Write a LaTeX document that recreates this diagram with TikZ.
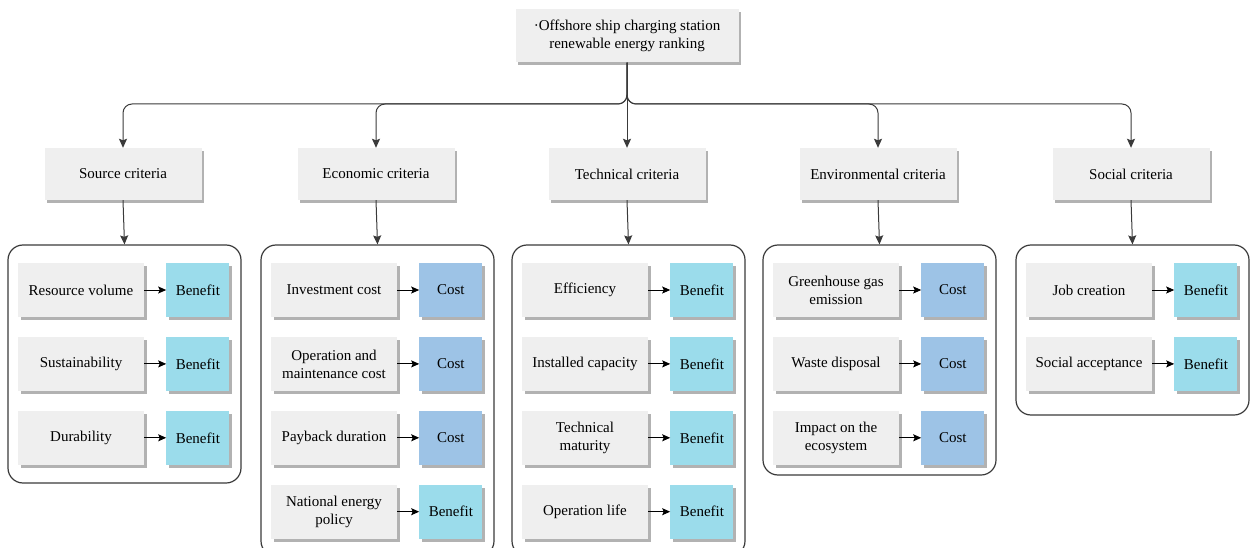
\documentclass[tikz,border=0pt]{standalone}
\usepackage{fontspec}
\setmainfont{Liberation Serif}
\usetikzlibrary{arrows.meta,positioning,shadows}
\definecolor{boxgray}{HTML}{EFEFEF}
\definecolor{benefitcol}{HTML}{9BDCEB}
\definecolor{costcol}{HTML}{9DC3E6}
\definecolor{linegray}{HTML}{3A3A3A}

\begin{document}
\begin{tikzpicture}[x=1pt, y=-1pt,
  font=\fontsize{15}{18}\selectfont,
  shd/.style={drop shadow={shadow xshift=2.5pt, shadow yshift=-3pt, opacity=0.3, fill=black}},
  goalbox/.style={shd, fill=boxgray, minimum width=223pt, minimum height=53pt, align=center},
  crit/.style={shd, fill=boxgray, minimum width=157pt, minimum height=52pt},
  item/.style={shd, fill=boxgray, minimum width=126pt, minimum height=54pt, align=center, inner sep=2pt},
  ben/.style={shd, fill=benefitcol, minimum width=63pt, minimum height=54pt},
  cst/.style={shd, fill=costcol, minimum width=63pt, minimum height=54pt},
  grp/.style={draw=linegray, line width=1.2pt, rounded corners=15pt, minimum width=233pt},
  link/.style={draw=linegray, line width=1pt, rounded corners=9pt, -{Stealth[length=9pt,width=8pt,inset=1.5pt]}},
  arr/.style={draw=black, line width=1pt, -{Stealth[length=8pt,width=7pt,inset=1.5pt]}},
  node distance=19.5pt and 22pt]
\useasboundingbox (0,0) rectangle (1252,548);

\node[goalbox] (goal) at (627,36) {·Offshore ship charging station\\renewable energy ranking};
\coordinate (bus) at (627,104);

\node[crit] (src) at (123,174) {Source criteria};
\node[crit] (eco) at (376,174) {Economic criteria};
\node[crit] (tec) at (627,174) {Technical criteria};
\node[crit] (env) at (878,174) {Environmental criteria};
\node[crit] (soc) at (1131,174) {Social criteria};

\draw[link] (goal.south) -- (tec.north);
\foreach \c in {src,eco,env,soc}
  \draw[link] (goal.south) -- (bus) -| (\c.north);

% criteria groups
\node[grp, minimum height=238pt] (srcbox) at (124.5,364) {};
\node[grp, minimum height=311pt] (ecobox) at (377.5,400.5) {};
\node[grp, minimum height=311pt] (tecbox) at (628.5,400.5) {};
\node[grp, minimum height=230pt] (envbox) at (879.5,360) {};
\node[grp, minimum height=170pt] (socbox) at (1132.5,330) {};

\foreach \c in {src,eco,tec,env,soc}
  \draw[link] (\c.south) -- (\c box.north);

\node[item] (src1) at (81,290) {Resource volume};
\node[item, below=of src1] (src2) {Sustainability};
\node[item, below=of src2] (src3) {Durability};
\node[ben, right=of src1] (tsrc1) {Benefit};
\node[ben, right=of src2] (tsrc2) {Benefit};
\node[ben, right=of src3] (tsrc3) {Benefit};

\node[item] (eco1) at (334,290) {Investment cost};
\node[item, below=of eco1] (eco2) {Operation and\\maintenance cost};
\node[item, below=of eco2] (eco3) {Payback duration};
\node[item, below=of eco3] (eco4) {National energy\\policy};
\node[cst, right=of eco1] (teco1) {Cost};
\node[cst, right=of eco2] (teco2) {Cost};
\node[cst, right=of eco3] (teco3) {Cost};
\node[ben, right=of eco4] (teco4) {Benefit};

\node[item] (tec1) at (585,290) {Efficiency};
\node[item, below=of tec1] (tec2) {Installed capacity};
\node[item, below=of tec2] (tec3) {Technical\\maturity};
\node[item, below=of tec3] (tec4) {Operation life};
\node[ben, right=of tec1] (ttec1) {Benefit};
\node[ben, right=of tec2] (ttec2) {Benefit};
\node[ben, right=of tec3] (ttec3) {Benefit};
\node[ben, right=of tec4] (ttec4) {Benefit};

\node[item] (env1) at (836,290) {Greenhouse gas\\emission};
\node[item, below=of env1] (env2) {Waste disposal};
\node[item, below=of env2] (env3) {Impact on the\\ecosystem};
\node[cst, right=of env1] (tenv1) {Cost};
\node[cst, right=of env2] (tenv2) {Cost};
\node[cst, right=of env3] (tenv3) {Cost};

\node[item] (soc1) at (1089,290) {Job creation};
\node[item, below=of soc1] (soc2) {Social acceptance};
\node[ben, right=of soc1] (tsoc1) {Benefit};
\node[ben, right=of soc2] (tsoc2) {Benefit};

\foreach \a in {src1,src2,src3,eco1,eco2,eco3,eco4,tec1,tec2,tec3,tec4,env1,env2,env3,soc1,soc2}
  \draw[arr] (\a) -- (t\a);
\end{tikzpicture}
\end{document}
